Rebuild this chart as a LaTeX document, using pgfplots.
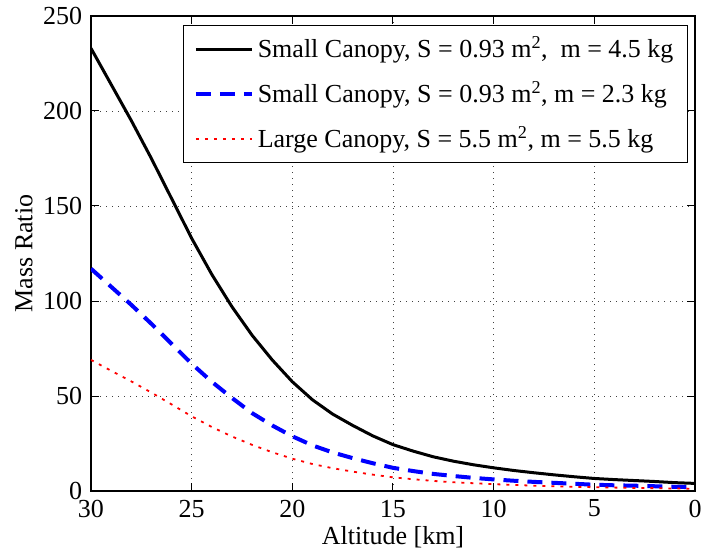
\documentclass[border=0pt]{standalone}
\usepackage{pgfplots}
\pgfplotsset{compat=1.18}
\usepackage{fontspec}
\setmainfont{Liberation Serif}
\begin{document}
\fontsize{26}{31}\selectfont
\begin{tikzpicture}
\begin{axis}[
  name=ax,
  scale only axis,
  width=604pt, height=475pt,
  x dir=reverse,
  xmin=0, xmax=30, ymin=0, ymax=250,
  xtick={0,5,...,30}, ytick={0,50,...,250},
  /pgf/number format/assume math mode=true,
  tick label style={font=\fontsize{26}{31}\selectfont},
  label style={font=\fontsize{26}{31}\selectfont},
  xlabel={Altitude [km]}, ylabel={Mass Ratio},
  xlabel style={at={(axis description cs:0.5,-0.097)}, anchor=center},
  ylabel style={at={(axis description cs:-0.111,0.5)}, anchor=center},
  axis line style={line width=1.5pt},
  tick style={line width=1pt, black},
  major tick length=8pt,
  grid=major,
  major grid style={black!75, line width=0.7pt, dash pattern=on 1pt off 5pt},
  legend style={at={(axis description cs:0.9884,0.981)}, anchor=north east,
    font=\fontsize{26}{31}\selectfont, draw=black, line width=1pt,
    row sep=16pt, inner xsep=10pt, inner ysep=9pt,
    nodes={inner xsep=4pt}},
  legend cell align=left,
  legend image code/.code={\draw[#1] (0pt,0pt) -- (56pt,0pt);},
]
\addplot[black, line width=3pt] coordinates {
(30,233) (29,214) (28,195) (27,175) (26,154) (25,133) (24,114) (23,97) (22,82) (21,69) (20,57.5)
(19,48) (18,40.5) (17,34.5) (16,29) (15,24.4) (14,21) (13,18) (12,15.7) (11,13.8) (10,12.2)
(9,10.8) (8,9.6) (7,8.5) (6,7.5) (5,6.6) (4,6) (3,5.5) (2,5) (1,4.4) (0,4.0)};
\addlegendentry{Small Canopy, S = 0.93 m\textsuperscript{2}, \ m = 4.5 kg\hspace{14pt}}
\addplot[blue, line width=4pt, dash pattern=on 15pt off 9pt] coordinates {
(30,117) (29,107.5) (28,98) (27,88) (26,77.5) (25,67) (24,57.5) (23,49) (22,41) (21,34.5) (20,28.8)
(19,24) (18,20.3) (17,17.3) (16,14.6) (15,12.2) (14,10.5) (13,9) (12,7.9) (11,6.9) (10,6.1)
(9,5.4) (8,4.8) (7,4.3) (6,3.8) (5,3.3) (4,3) (3,2.8) (2,2.5) (1,2.2) (0,2.0)};
\addlegendentry{Small Canopy, S = 0.93 m\textsuperscript{2}, m = 2.3 kg}
\addplot[red, line width=1.8pt, dash pattern=on 3pt off 6pt] coordinates {
(30,69) (29,63.3) (28,57.7) (27,51.8) (26,45.6) (25,39.3) (24,33.7) (23,28.7) (22,24.3) (21,20.4) (20,17)
(19,14.2) (18,12) (17,10.2) (16,8.6) (15,7.2) (14,6.2) (13,5.3) (12,4.6) (11,4.1) (10,3.6)
(9,3.2) (8,2.8) (7,2.5) (6,2.2) (5,2.0) (4,1.8) (3,1.6) (2,1.5) (1,1.3) (0,1.2)};
\addlegendentry{Large Canopy, S = 5.5 m\textsuperscript{2}, m = 5.5 kg}
\end{axis}
\pgfresetboundingbox
\path ([xshift=-91pt,yshift=-60pt]ax.south west) rectangle ([xshift=7pt,yshift=16pt]ax.north east);
\end{tikzpicture}
\end{document}
